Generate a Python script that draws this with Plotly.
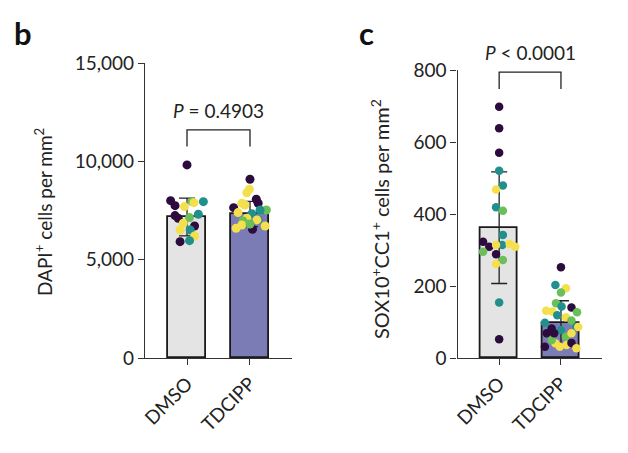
import plotly.graph_objects as go

FONT = "Lato, Liberation Sans, Arial, sans-serif"
TXT = "#222222"

categories = ["DMSO", "TDCIPP"]
cat_pos = [0, 1]

# Panel b: DAPI+ cells per mm2
b_means = [7170, 7325]
b_sd = [960, 640]
b_dmso_vals = [9817, 8001, 7747, 7700, 7950, 7900, 7950, 7310, 7240, 7106, 7140, 6714, 6850, 6511, 6511, 6206, 5968, 5917]
b_dmso_jit = [0.0, -0.26, -0.19, -0.04, 0.08, 0.11, 0.26, 0.18, -0.19, -0.14, 0.04, 0.12, -0.06, -0.11, 0.05, 0.12, 0.04, -0.11]
b_dmso_grp = [0, 0, 0, 3, 2, 3, 1, 1, 0, 0, 2, 0, 3, 3, 1, 3, 1, 0]
b_tdc_vals = [9088, 8580, 8400, 8070, 7870, 7646, 7870, 7780, 7528, 7528, 7392, 7340, 7106, 7020, 7020, 6970, 6765, 6596, 6714, 6545, 6816]
b_tdc_jit = [0.0, -0.01, -0.05, 0.10, -0.13, -0.26, 0.13, -0.08, 0.26, 0.16, -0.19, 0.03, -0.05, 0.13, 0.11, -0.11, -0.13, -0.22, 0.24, 0.04, 0.0]
b_tdc_grp = [0, 3, 3, 0, 3, 0, 0, 3, 2, 1, 3, 1, 3, 1, 3, 2, 3, 3, 3, 0, 2]
b_bracket = [11600, 10750]
b_ticks = [0, 5000, 10000, 15000]
b_ticktext = ["0", "5,000", "10,000", "15,000"]
b_p = "<i>P</i> = 0.4903"

# Panel c: SOX10+CC1+ cells per mm2
c_means = [362, 98]
c_sd = [155, 61]
c_dmso_vals = [698, 638, 570, 520, 479, 468, 419, 409, 342, 323, 309, 295, 314, 314, 317, 309, 288, 272, 261, 154, 52]
c_dmso_jit = [0.0, 0.0, 0.0, 0.0, 0.06, -0.05, -0.05, 0.06, 0.06, -0.26, -0.16, -0.26, 0.05, -0.05, 0.17, 0.26, -0.05, 0.06, -0.05, 0.0, 0.0]
c_dmso_grp = [0, 0, 0, 1, 1, 3, 1, 2, 1, 0, 0, 2, 1, 3, 3, 3, 0, 2, 3, 1, 0]
c_tdc_vals = [252, 203, 194, 182, 152, 143, 131, 129, 140, 127, 119, 113, 98, 104, 82, 87, 86, 69, 78, 59, 69, 41, 36, 42, 31, 27, 50, 31, 69]
c_tdc_jit = [0.0, -0.09, 0.08, 0.0, -0.08, 0.01, -0.24, -0.14, 0.17, 0.26, -0.06, 0.08, -0.26, 0.17, -0.15, 0.25, 0.28, -0.23, 0.0, 0.08, 0.17, -0.09, 0.09, 0.17, -0.26, 0.25, -0.15, -0.02, -0.11]
c_tdc_grp = [0, 1, 3, 2, 2, 1, 3, 3, 0, 2, 1, 3, 1, 2, 0, 1, 3, 0, 1, 2, 3, 3, 3, 0, 0, 3, 2, 3, 0]
c_bracket = [794, 747]
c_ticks = [0, 200, 400, 600, 800]
c_ticktext = ["0", "200", "400", "600", "800"]
c_p = "<i>P</i> < 0.0001"

group_colors = ["#2c0b3e", "#21908d", "#6bbf59", "#f4e04d"]
bar_colors = ["#e4e4e4", "#7b7bb6"]

# page offset (browser body margin) and figure size
OFF = 8
W, H = 628 - 2 * OFF, 453 - 2 * OFF

def px(x):
    return (x - OFF) / W

def py(y):
    return 1 - (y - OFF) / H

fig = go.Figure()

def add_panel(xa, ya, means, sd, dvals, djit, dgrp, tvals, tjit, tgrp, msize):
    fig.add_trace(go.Bar(
        x=cat_pos, y=means, width=0.6,
        marker=dict(color=bar_colors, line=dict(color="#1a1a1a", width=1.8)),
        error_y=dict(type="data", array=sd, visible=True, color="#222222", thickness=1.3, width=8),
        xaxis=xa, yaxis=ya, showlegend=False, hoverinfo="skip"))
    xs = [cat_pos[0] + j for j in djit] + [cat_pos[1] + j for j in tjit]
    ys = list(dvals) + list(tvals)
    cs = [group_colors[g] for g in dgrp] + [group_colors[g] for g in tgrp]
    fig.add_trace(go.Scatter(
        x=xs, y=ys, mode="markers",
        marker=dict(size=msize, color=cs, line=dict(width=0)),
        xaxis=xa, yaxis=ya, showlegend=False, hoverinfo="skip"))

add_panel("x", "y", b_means, b_sd, b_dmso_vals, b_dmso_jit, b_dmso_grp,
          b_tdc_vals, b_tdc_jit, b_tdc_grp, 9)
add_panel("x2", "y2", c_means, c_sd, c_dmso_vals, c_dmso_jit, c_dmso_grp,
          c_tdc_vals, c_tdc_jit, c_tdc_grp, 8.5)

# brackets
for xr, yr, br in [("x", "y", b_bracket), ("x2", "y2", c_bracket)]:
    fig.add_trace(go.Scatter(
        x=[cat_pos[0], cat_pos[0], cat_pos[1], cat_pos[1]],
        y=[br[1], br[0], br[0], br[1]],
        mode="lines", line=dict(color="#222222", width=1.3),
        xaxis=xr, yaxis=yr, showlegend=False, hoverinfo="skip"))

axis_common = dict(
    showline=True, linecolor="#333333", linewidth=1.3,
    ticks="outside", ticklen=6, tickwidth=1.3, tickcolor="#333333",
    showgrid=False, zeroline=False, automargin=False,
    tickfont=dict(family=FONT, size=19, color=TXT),
)

fig.update_layout(
    template="none",
    width=W, height=H,
    margin=dict(l=0, r=0, t=0, b=0, pad=0),
    paper_bgcolor="white", plot_bgcolor="white",
    font=dict(family=FONT, color=TXT),
    bargap=0,
    xaxis=dict(domain=[px(145), px(292)], range=[-0.667, 1.667],
               tickvals=cat_pos, ticktext=categories, tickangle=-45, anchor="y", **axis_common),
    yaxis=dict(domain=[py(358), py(63)], range=[0, 15000],
               tickvals=b_ticks, ticktext=b_ticktext, anchor="x", **axis_common),
    xaxis2=dict(domain=[px(457.5), px(602)], range=[-0.674, 1.664],
                tickvals=cat_pos, ticktext=categories, tickangle=-45, anchor="y2", **axis_common),
    yaxis2=dict(domain=[py(358), py(70)], range=[0, 800],
                tickvals=c_ticks, ticktext=c_ticktext, anchor="x2", **axis_common),
)

annotations = [
    dict(text="<b>b</b>", x=px(12), y=py(12), xref="paper", yref="paper",
         xanchor="left", yanchor="top", showarrow=False,
         font=dict(family=FONT, size=31, color="#111111")),
    dict(text="<b>c</b>", x=px(357), y=py(12), xref="paper", yref="paper",
         xanchor="left", yanchor="top", showarrow=False,
         font=dict(family=FONT, size=31, color="#111111")),
    dict(text="DAPI<sup>+</sup> cells per mm<sup>2</sup>", x=px(43), y=py(212),
         xref="paper", yref="paper", textangle=-90, showarrow=False,
         xanchor="center", yanchor="middle", font=dict(family=FONT, size=19, color=TXT)),
    dict(text="SOX10<sup>+</sup>CC1<sup>+</sup> cells per mm<sup>2</sup>", x=px(380), y=py(219),
         xref="paper", yref="paper", textangle=-90, showarrow=False,
         xanchor="center", yanchor="middle", font=dict(family=FONT, size=20, color=TXT)),
    dict(text=b_p, x=0.5, y=b_bracket[0], xref="x", yref="y", yshift=6,
         xanchor="center", yanchor="bottom", showarrow=False,
         font=dict(family=FONT, size=19, color=TXT)),
    dict(text=c_p, x=0.5, y=c_bracket[0], xref="x2", yref="y2", yshift=6,
         xanchor="center", yanchor="bottom", showarrow=False,
         font=dict(family=FONT, size=19, color=TXT)),
]
fig.update_layout(annotations=annotations)

fig.write_html("out.html")
